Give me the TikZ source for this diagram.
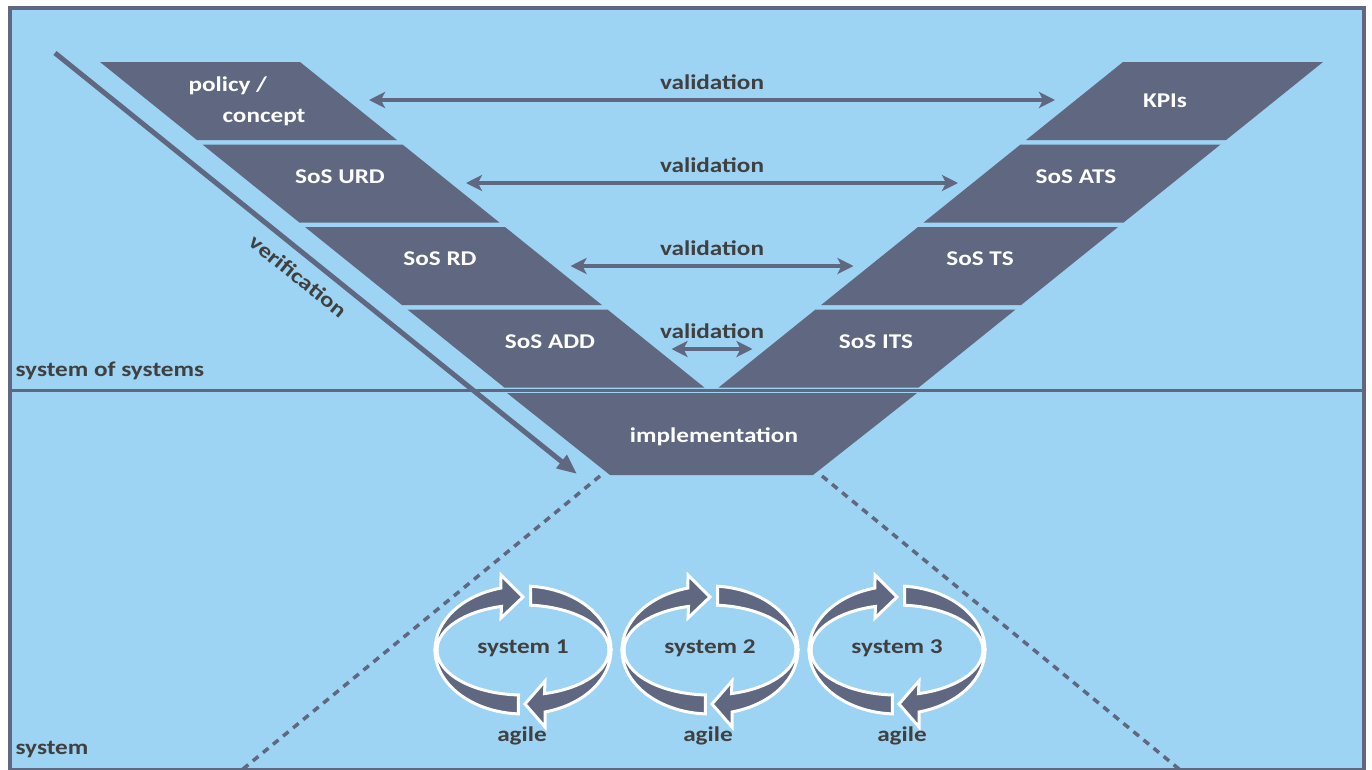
\documentclass[tikz,border=0pt]{standalone}
\usepackage{fontspec}
\setmainfont{Carlito}[FakeStretch=1.2]
\usetikzlibrary{arrows.meta,positioning,calc}
\definecolor{vblue}{HTML}{9DD3F3}
\definecolor{vslate}{HTML}{5F6880}
\definecolor{vtext}{HTML}{404040}
\tikzset{
  stripe/.style={fill=vslate, draw=none},
  stripeText/.style={font=\bfseries\fontsize{21}{31}\selectfont, text=white, align=left},
  valArrow/.style={{Stealth[length=16pt,width=16pt,inset=4pt]}-{Stealth[length=16pt,width=16pt,inset=4pt]}, line width=4pt, draw=vslate},
  verArrow/.style={-{Triangle[length=20pt,width=16pt]}, line width=5pt, draw=vslate},
  darkLabel/.style={font=\bfseries\fontsize{21}{25}\selectfont, text=vtext},
  levelLabel/.style={darkLabel, anchor=west},
  dotLine/.style={draw=vslate, line width=3.5pt, dash pattern=on 7pt off 6pt},
  cyclePart/.style={fill=vslate, draw=white, line width=3pt}
}
\begin{document}
\begin{tikzpicture}[x=1pt,y=-1pt]
  \useasboundingbox (0,0) rectangle (1372,769);
  \clip (0,0) rectangle (1372,769);
  \fill[white] (0,0) rectangle (1372,769);
  \draw[draw=vslate, line width=4pt, fill=vblue] (10,8) rectangle (1364,770);
  \draw[draw=vslate, line width=3pt] (10,390) -- (1364,390);
  \node[levelLabel] (sosLabel) at (12,371) {system of systems};
  \node[levelLabel] (sysLabel) at (12,750) {system};
  % V stripes, left and right
  \foreach \top/\ltext/\lx/\rtext/\rx/\ty [count=\i] in {62/{policy /\\\hspace*{34pt}concept}/247/KPIs/1165/101,
      144.5/SoS URD/340/SoS ATS/1076/177, 227/SoS RD/440/SoS TS/980/259, 309.5/SoS ADD/550/SoS ITS/876/342} {
    \pgfmathsetmacro\bot{\top+78}
    \pgfmathsetmacro\la{100+1.2423*(\top-62)}
    \pgfmathsetmacro\lb{100+1.2423*(\bot-62)}
    \fill[stripe] (\la,\top) -- (\la+200,\top) -- (\lb+200,\bot) -- (\lb,\bot) -- cycle;
    \fill[stripe] (1423-\la,\top) -- (1223-\la,\top) -- (1223-\lb,\bot) -- (1423-\lb,\bot) -- cycle;
    \node[stripeText] (left\i) at (\lx,\ty) {\ltext};
    \node[stripeText] (right\i) at (\rx,\ty) {\rtext};
  }
  \fill[stripe] (507,393) -- (917,393) -- (813,475) -- (610,475) -- cycle;
  \node[stripeText] (impl) at (714,437) {implementation};
  % validation arrows
  \foreach \y/\hw [count=\i] in {100/343, 183/246, 266/141.5, 349/40.5} {
    \coordinate (vl\i) at (712-\hw,\y);
    \coordinate (vr\i) at (712+\hw,\y);
    \draw[valArrow] (vl\i) -- (vr\i);
    \node[darkLabel] (val\i) at (712,\y-18) {validation};
  }
  % verification
  \coordinate (verStart) at (55,53);
  \coordinate (verEnd) at (577,474);
  \draw[verArrow] (verStart) -- (verEnd);
  \node[darkLabel, rotate=-38.8] (verLabel) at (298,276) {verification};
  % funnel down to the systems
  \coordinate (implBL) at (600,476);
  \coordinate (implBR) at (822,476);
  \coordinate (floorL) at (243,769);
  \coordinate (floorR) at (1179,769);
  \draw[dotLine] (implBL) -- (floorL);
  \draw[dotLine] (implBR) -- (floorR);
  % agile cycles
  \foreach \cx/\name/\ax [count=\i] in {523/system 1/522, 710/system 2/708, 897/system 3/902} {
    \draw[cyclePart] (\cx-88,650) arc[start angle=180, end angle=255.5, x radius=88, y radius=64]
      -- (\cx-22,575) -- (\cx,597) -- (\cx-22,618) -- (\cx-21.5,606.4)
      arc[start angle=255.5, end angle=180, x radius=86, y radius=45] -- cycle;
    \draw[cyclePart] (\cx+7.7,586.2) arc[start angle=275, end angle=360, x radius=88, y radius=64]
      -- (\cx+86,650) arc[start angle=360, end angle=275, x radius=86, y radius=45] -- cycle;
    \draw[cyclePart] (\cx+88,650) arc[start angle=0, end angle=75.5, x radius=88, y radius=64]
      -- (\cx+22,727) -- (\cx+2,704) -- (\cx+22,681) -- (\cx+21.5,693.6)
      arc[start angle=75.5, end angle=0, x radius=86, y radius=45] -- cycle;
    \draw[cyclePart] (\cx-4.6,713.9) arc[start angle=93, end angle=180, x radius=88, y radius=64]
      -- (\cx-86,650) arc[start angle=180, end angle=93, x radius=86, y radius=45] -- cycle;
    \node[darkLabel] (sys\i) at (\cx,648) {\name};
    \node[darkLabel] (agile\i) at (\ax,736) {agile};
  }
\end{tikzpicture}
\end{document}
